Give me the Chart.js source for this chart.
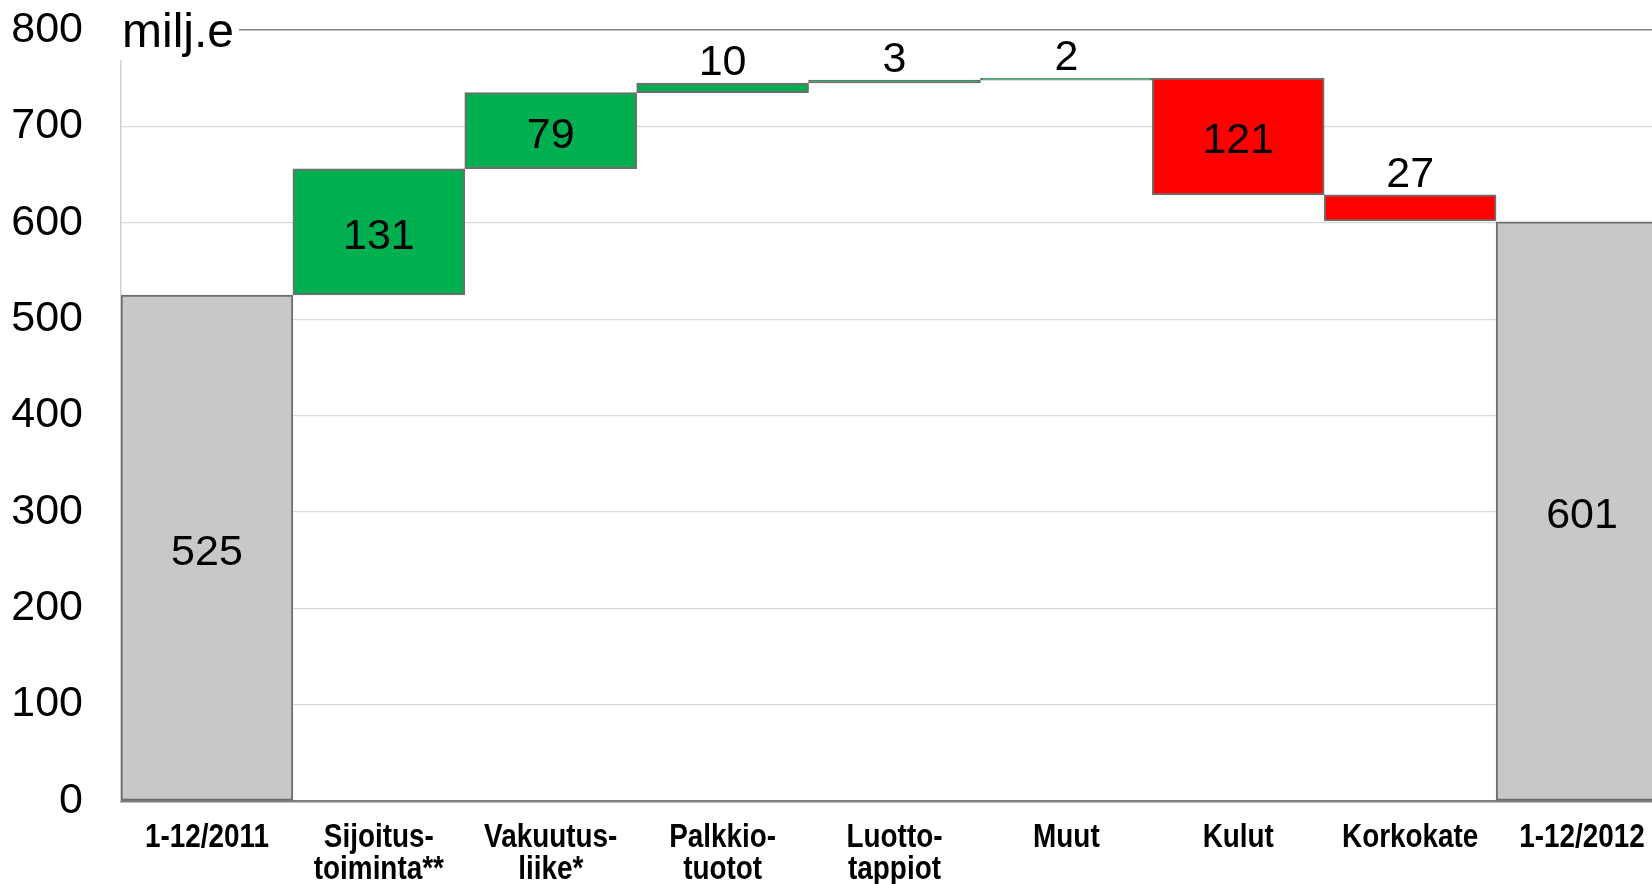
<!DOCTYPE html>
<html><head><meta charset="utf-8">
<script src="https://cdn.jsdelivr.net/npm/chart.js@4/dist/chart.umd.min.js"></script>
<style>html,body{margin:0;padding:0;overflow:hidden;background:#fff}#wrap{width:1680px;height:884px}</style>
</head><body><div id="wrap"><canvas id="c" width="1680" height="884" style="width:1680px;height:884px"></canvas></div>
<script>
// ---- data ----
const categories = [['1-12/2011'], ['Sijoitus-','toiminta**'], ['Vakuutus-','liike*'], ['Palkkio-','tuotot'], ['Luotto-','tappiot'], ['Muut'], ['Kulut'], ['Korkokate'], ['1-12/2012']];
const barLows  = [0, 525, 656, 735, 745, 748, 629, 602, 0];
const barHighs = [525, 656, 735, 745, 748, 750, 750, 629, 601];
const valueLabels = ['525', '131', '79', '10', '3', '2', '121', '27', '601'];
const labelPlacement = ['center', 'center', 'center', 'above', 'above', 'above', 'center', 'above', 'center'];
const barKinds = ['total', 'up', 'up', 'up', 'up', 'up', 'down', 'down', 'total'];
const yTickValues = [0, 100, 200, 300, 400, 500, 600, 700, 800];
const yAxisTitle = 'milj.e';

// ---- styles ----
const kindColors = { total: '#c8c8c8', up: '#00b050', down: '#ff0000' };
const FONT = "'Liberation Sans', Arial, sans-serif";

const floating = barLows.map((lo, i) => [lo, barHighs[i]]);

const valueLabelPlugin = {
  id: 'valueLabels',
  afterDatasetsDraw(chart) {
    const ctx = chart.ctx;
    const meta = chart.getDatasetMeta(0);
    ctx.save();
    ctx.font = '43px ' + FONT;
    ctx.fillStyle = '#000';
    ctx.textAlign = 'center';
    meta.data.forEach((el, i) => {
      const top = Math.min(el.y, el.base), bot = Math.max(el.y, el.base);
      if (labelPlacement[i] === 'center') {
        ctx.textBaseline = 'middle';
        ctx.fillText(valueLabels[i], el.x, (top + bot) / 2 + 5);
      } else {
        ctx.textBaseline = 'alphabetic';
        ctx.fillText(valueLabels[i], el.x, top - 8);
      }
    });
    ctx.restore();
  }
};

// condensed bold category labels, positioned by the x scale
const xLabelPlugin = {
  id: 'xLabels',
  afterDraw(chart) {
    const sc = chart.scales.x, ctx = chart.ctx;
    ctx.save();
    ctx.font = 'bold 34px ' + FONT;
    ctx.fillStyle = '#000';
    ctx.textAlign = 'center';
    ctx.textBaseline = 'alphabetic';
    chart.data.labels.forEach((lines, i) => {
      const x = sc.getPixelForTick(i);
      lines.forEach((line, j) => {
        ctx.save();
        ctx.translate(x, sc.top + 46 + j * 32);
        ctx.scale(0.82, 1);
        ctx.fillText(line, 0, 0);
        ctx.restore();
      });
    });
    ctx.restore();
  }
};

const axisTitlePlugin = {
  id: 'axisTitle',
  afterDraw(chart) {
    const ctx = chart.ctx;
    const left = chart.chartArea.left, top = chart.chartArea.top;
    ctx.save();
    ctx.font = '48px ' + FONT;
    const w = ctx.measureText(yAxisTitle).width;
    ctx.fillStyle = '#fff';
    ctx.fillRect(left - 4, 0, w + 10, top + 30);
    ctx.fillStyle = '#000';
    ctx.textAlign = 'left';
    ctx.textBaseline = 'alphabetic';
    ctx.fillText(yAxisTitle, left + 1, top + 17);
    ctx.restore();
  }
};

const chart = new Chart(document.getElementById('c'), {
  type: 'bar',
  data: {
    labels: categories,
    datasets: [{
      data: floating,
      backgroundColor: barKinds.map(k => kindColors[k]),
      borderColor: '#6e6e6e',
      borderWidth: 2,
      borderSkipped: false,
      barPercentage: 1,
      categoryPercentage: 1
    }]
  },
  options: {
    responsive: false,
    animation: false,
    devicePixelRatio: 1,
    layout: { padding: { top: 30, right: 12, left: 0, bottom: 0 } },
    plugins: { legend: { display: false }, tooltip: { enabled: false } },
    scales: {
      x: {
        grid: { display: false, drawTicks: false },
        border: { display: true, color: '#808080', width: 2.5 },
        ticks: { display: false },
        afterFit(scale) { scale.height = 83; }
      },
      y: {
        min: 0, max: 800,
        afterBuildTicks(scale) { scale.ticks = yTickValues.map(v => ({ value: v })); },
        grid: {
          drawTicks: true,
          tickLength: 38,
          tickColor: 'rgba(0,0,0,0)',
          color: ctx => (ctx.tick && ctx.tick.value === 800) ? '#808080' : '#d9d9d9',
          lineWidth: ctx => (ctx.tick && ctx.tick.value === 800) ? 1.5 : 1.2
        },
        border: { display: true, color: '#d0d0d0', width: 1.5 },
        ticks: { color: '#000', font: { family: FONT, size: 43 }, padding: 0 },
        afterFit(scale) { scale.width = 121; }
      }
    }
  },
  plugins: [valueLabelPlugin, xLabelPlugin, axisTitlePlugin]
});
</script>
</body></html>
